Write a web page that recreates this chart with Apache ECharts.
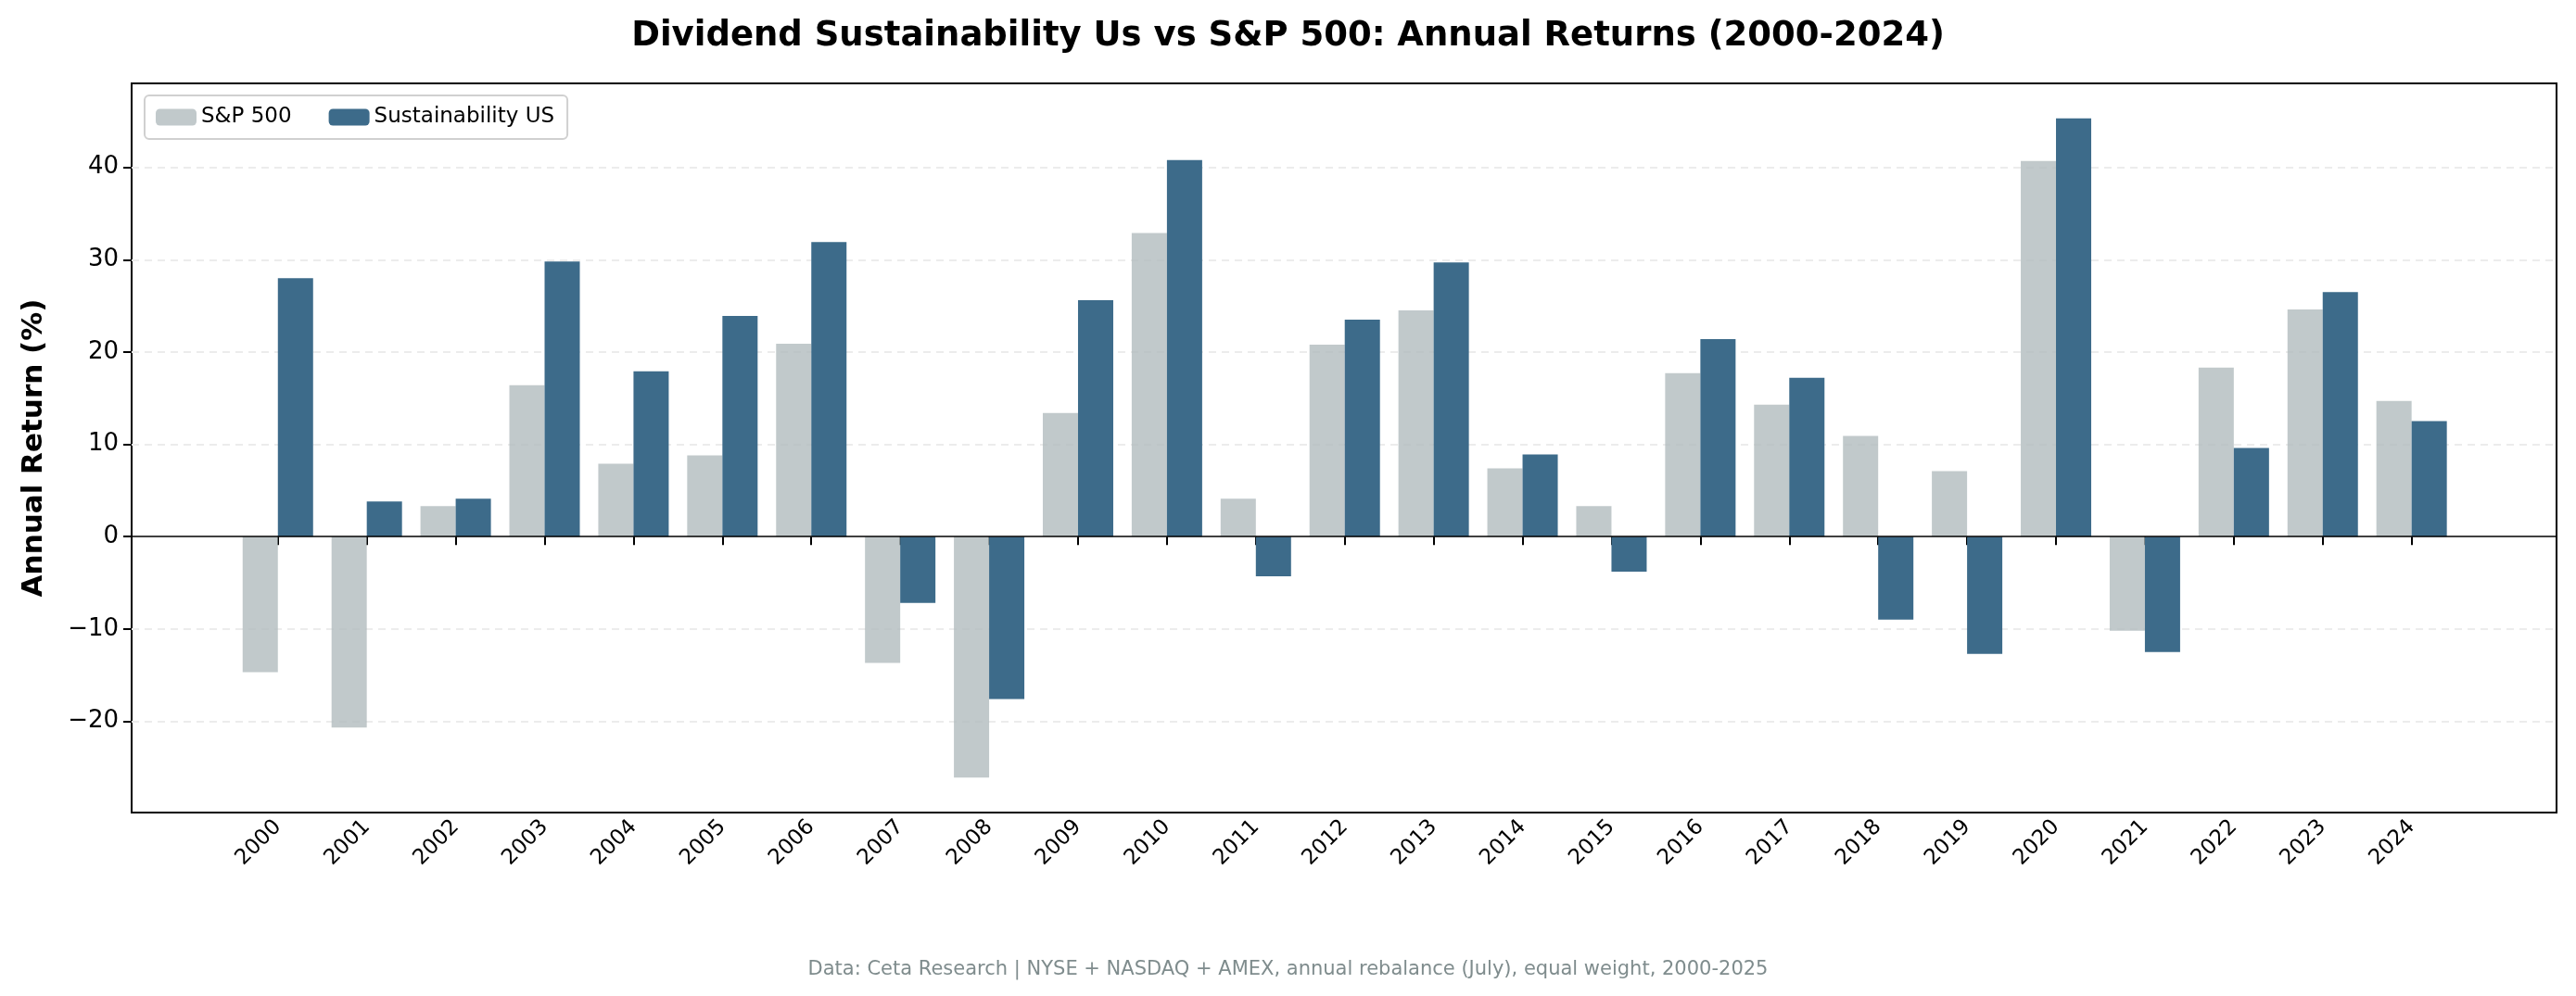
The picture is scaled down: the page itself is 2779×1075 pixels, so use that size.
<!DOCTYPE html>
<html>
<head>
<meta charset="utf-8">
<script src="https://cdn.jsdelivr.net/npm/echarts@6/dist/echarts.min.js"></script>
<style>html,body{margin:0;padding:0;background:#fff}#chart{width:2779px;height:1075px}</style>
</head>
<body>
<div id="chart"></div>
<script>
var years = [2000,2001,2002,2003,2004,2005,2006,2007,2008,2009,2010,2011,2012,2013,2014,2015,2016,2017,2018,2019,2020,2021,2022,2023,2024];
var sp500 = [-14.7,-20.7,3.3,16.4,7.9,8.8,20.9,-13.7,-26.1,13.4,32.9,4.1,20.8,24.5,7.4,3.3,17.7,14.3,10.9,7.1,40.7,-10.2,18.3,24.6,14.7];
var sustain = [28.0,3.8,4.1,29.8,17.9,23.9,31.9,-7.2,-17.6,25.6,40.8,-4.3,23.5,29.7,8.9,-3.8,21.4,17.2,-9.0,-12.7,45.3,-12.5,9.6,26.5,12.5];
var yTicks = [-20,-10,0,10,20,30,40];

var font = 'DejaVu Sans';
var chart = echarts.init(document.getElementById('chart'));

function pairs(vals) {
  return vals.map(function (v, i) { return [years[i], v]; });
}

chart.setOption({
  animation: false,
  textStyle: { fontFamily: font },
  title: [{
    text: 'Dividend Sustainability Us vs S&P 500: Annual Returns (2000-2024)',
    left: 'center', top: 16,
    textStyle: { fontSize: 37, fontWeight: 'bold', color: '#000', fontFamily: font }
  }, {
    text: 'Data: Ceta Research | NYSE + NASDAQ + AMEX, annual rebalance (July), equal weight, 2000-2025',
    left: 'center', top: 1031,
    textStyle: { fontSize: 21, fontWeight: 'normal', color: '#7f8c8d', fontFamily: font }
  }],
  legend: {
    left: 156, top: 103,
    itemWidth: 44, itemHeight: 18, itemGap: 40,
    padding: [12, 14, 12, 12],
    borderColor: '#d0d0d0', borderWidth: 2, borderRadius: 5,
    textStyle: { fontSize: 23, color: '#000' },
    data: ['S&P 500', 'Sustainability US']
  },
  grid: { left: 142, right: 21, top: 90, bottom: 198, show: true, borderColor: '#000', borderWidth: 2 },
  xAxis: {
    type: 'value', min: 1998.355, max: 2025.63,
    axisLine: { show: false },
    splitLine: { show: false },
    axisTick: { show: true, length: 9, customValues: years, lineStyle: { color: '#000', width: 2 } },
    axisLabel: {
      customValues: years, rotate: 45, fontSize: 23, color: '#000', margin: 12,
      formatter: function (v) { return String(v); }
    }
  },
  yAxis: {
    type: 'value', min: -29.9, max: 49.1,
    name: 'Annual Return (%)', nameLocation: 'middle', nameGap: 90,
    nameTextStyle: { fontSize: 31, fontWeight: 'bold', color: '#000' },
    axisLine: { show: false },
    axisTick: { show: true, length: 9, customValues: yTicks, lineStyle: { color: '#000', width: 2 } },
    axisLabel: { customValues: yTicks, fontSize: 26, color: '#000', margin: 14,
      formatter: function (v) { return v < 0 ? '\u2212' + Math.abs(v) : String(v); } },
    splitLine: { show: false }
  },
  series: [{
    name: 'S&P 500', type: 'bar', data: pairs(sp500),
    barWidth: 38, barGap: '0%',
    itemStyle: { color: 'rgba(178,188,190,0.8)' },
    markLine: {
      silent: true, symbol: 'none', label: { show: false },
      lineStyle: { color: '#000', width: 1.5, type: 'solid' },
      data: [{ yAxis: 0 }]
    }
  }, {
    name: 'Sustainability US', type: 'bar', data: pairs(sustain),
    barWidth: 38, barGap: '0%',
    itemStyle: { color: '#3d6b8a' },
    markLine: {
      silent: true, symbol: 'none', label: { show: false },
      lineStyle: { color: '#ececec', width: 2, type: [8, 6] },
      data: yTicks.filter(function (t) { return t !== 0; }).map(function (t) { return { yAxis: t }; }),
      z: 0
    },
    z: 3
  }]
});
</script>
</body>
</html>
